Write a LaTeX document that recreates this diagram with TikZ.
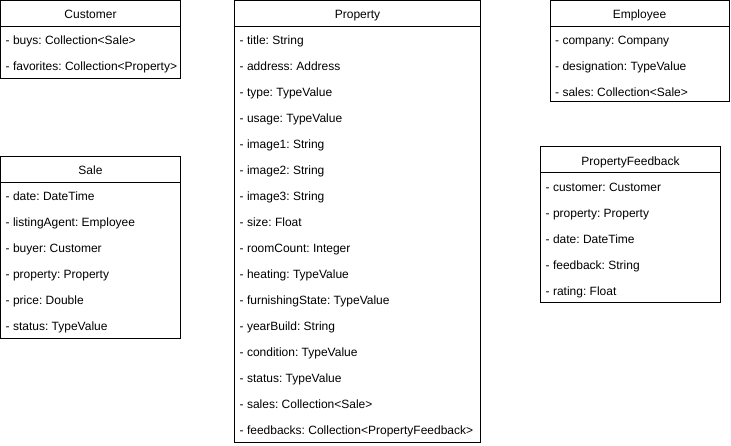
\documentclass[tikz,border=0pt]{standalone}
\usepackage{fontspec}
\setmainfont{Liberation Sans}
\frenchspacing
\tikzset{
  classbox/.style={draw=black, line width=1pt, fill=white, rectangle, inner sep=0pt, outer sep=0pt},
  headline/.style={draw=black, line width=1pt},
  titletext/.style={anchor=base, inner sep=0pt, font=\fontsize{12}{14}\selectfont\frenchspacing, text=black},
  attrtext/.style={anchor=base west, inner sep=0pt, font=\fontsize{12}{14}\selectfont\frenchspacing, text=black}
}
% #1 name, #2 x, #3 y, #4 w, #5 h, #6 title, #7 attributes
\newcommand\umlclassbox[7]{%
  \node[classbox, minimum width=#4pt, minimum height=#5pt, anchor=north west] (#1) at (#2,#3) {};
  \node[titletext] (#1-title) at (#2+#4/2,#3+18.2) {#6};
  \coordinate (#1-hl) at (#2,#3+26);
  \coordinate (#1-hr) at (#2+#4,#3+26);
  \draw[headline] (#1-hl) -- (#1-hr);
  \foreach \a [count=\i] in {#7} {
    \node[attrtext] (#1-\i) at (#2+5,#3+18.3+26*\i) {\a};
  }
}
\begin{document}
\begin{tikzpicture}[x=1pt,y=-1pt]
\useasboundingbox (0,0) rectangle (731,446);
\umlclassbox{customer}{0.5}{0.5}{180}{78}{Customer}{- buys: Collection<Sale>,- favorites: Collection<Property>}
\umlclassbox{property}{234.5}{0.5}{246}{442}{Property}{- title: String,- address: Address,- type: TypeValue,- usage: TypeValue,- image1: String,- image2: String,- image3: String,- size: Float,- roomCount: Integer,- heating: TypeValue,- furnishingState: TypeValue,- yearBuild: String,- condition: TypeValue,- status: TypeValue,- sales: Collection<Sale>,- feedbacks: Collection<PropertyFeedback>}
\umlclassbox{employee}{550}{0.5}{179}{101.5}{Employee}{- company: Company,- designation: TypeValue,- sales: Collection<Sale>}
\umlclassbox{sale}{0.5}{156.5}{180}{182}{Sale}{- date: DateTime,- listingAgent: Employee,- buyer: Customer,- property: Property,- price: Double,- status: TypeValue}
\umlclassbox{feedback}{540.5}{147}{180}{156}{PropertyFeedback}{- customer: Customer,- property: Property,- date: DateTime,- feedback: String,- rating: Float}
\end{tikzpicture}
\end{document}
